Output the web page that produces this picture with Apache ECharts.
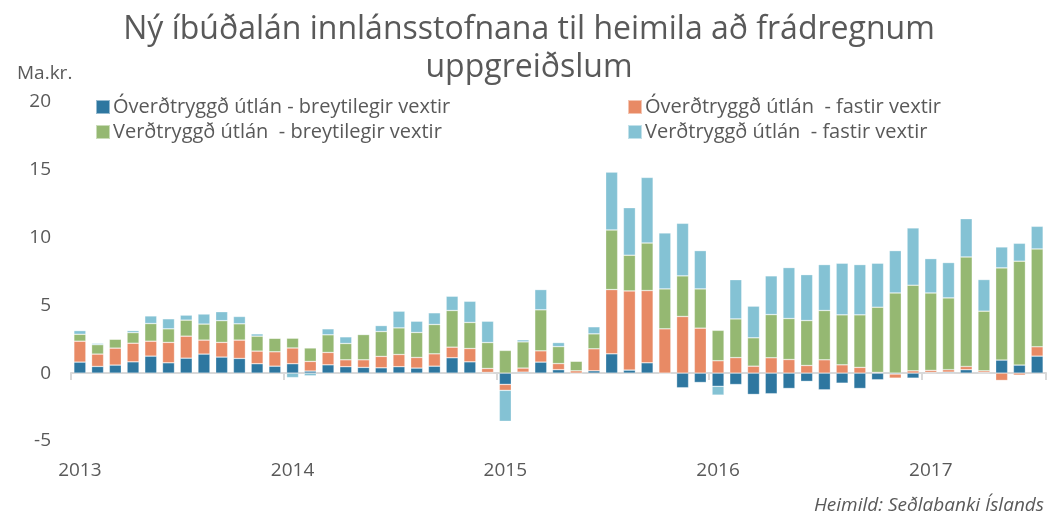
<!DOCTYPE html>
<html>
<head>
<meta charset="utf-8">
<script src="https://cdn.jsdelivr.net/npm/echarts@6/dist/echarts.min.js"></script>
<style>
  html, body { margin: 0; padding: 0; background: #fff; }
  #chart { width: 1058px; height: 522px; }
</style>
</head>
<body>
<div id="chart"></div>
<script>
// mánuðir jan 2013 - júl 2017
const months = [];
for (let y = 2013; y <= 2017; y++) {
  for (let m = 1; m <= 12; m++) {
    if (y === 2017 && m > 7) break;
    months.push(y + "-" + (m < 10 ? "0" + m : m));
  }
}

// Óverðtryggð útlán - breytilegir vextir
const overBreyt = [
  0.81, 0.49, 0.59, 0.83, 1.25, 0.76, 1.10, 1.40, 1.18, 1.08, 0.69, 0.51,
  0.69, 0.15, 0.61, 0.47, 0.42, 0.39, 0.47, 0.37, 0.51, 1.13, 0.83, 0.05,
  -0.83, 0.07, 0.81, 0.25, 0, 0.17, 1.42, 0.22, 0.76, 0, -1.08, -0.69,
  -0.97, -0.84, -1.57, -1.52, -1.13, -0.61, -1.23, -0.74, -1.13, -0.49, -0.07, -0.37,
  0.05, 0.07, 0.25, 0.05, 0.96, 0.59, 1.25
];
// Óverðtryggð útlán - fastir vextir
const overFast = [
  1.54, 0.91, 1.25, 1.37, 1.10, 1.50, 1.62, 1.03, 1.08, 1.35, 0.93, 1.06,
  1.16, 0.71, 0.91, 0.51, 0.56, 0.84, 0.90, 0.78, 0.91, 0.78, 0.98, 0.29,
  -0.44, 0.30, 0.83, 0.45, 0.17, 1.62, 4.73, 5.83, 5.32, 3.26, 4.17, 3.31,
  0.91, 1.14, 0.51, 1.13, 1.00, 0.56, 0.98, 0.61, 0.42, 0.05, -0.30, 0.17,
  0.15, 0.18, 0.24, 0.12, -0.54, -0.15, 0.69
];
// Verðtryggð útlán - breytilegir vextir
const verdBreyt = [
  0.51, 0.69, 0.66, 0.78, 1.30, 1.00, 1.18, 1.18, 1.60, 1.20, 1.10, 1.00,
  0.72, 0.99, 1.30, 1.20, 1.86, 1.83, 1.96, 1.84, 2.16, 2.70, 1.92, 1.91,
  1.67, 1.93, 3.02, 1.25, 0.71, 1.10, 4.39, 2.63, 3.50, 2.94, 2.99, 2.89,
  2.24, 2.85, 2.09, 3.18, 3.02, 3.31, 3.63, 3.68, 3.87, 4.80, 5.90, 6.30,
  5.70, 5.29, 8.06, 4.39, 6.79, 7.65, 7.20
];
// Verðtryggð útlán - fastir vextir
const verdFast = [
  0.27, 0.10, 0, 0.15, 0.56, 0.74, 0.37, 0.74, 0.66, 0.54, 0.17, 0,
  -0.33, -0.20, 0.44, 0.49, 0.05, 0.44, 1.23, 0.83, 0.86, 1.05, 1.56, 1.57,
  -2.28, 0.15, 1.49, 0.30, 0, 0.52, 4.26, 3.50, 4.83, 4.12, 3.87, 2.82,
  -0.65, 2.89, 2.33, 2.85, 3.75, 3.38, 3.38, 3.80, 3.70, 3.24, 3.12, 4.22,
  2.53, 2.60, 2.82, 2.33, 1.54, 1.32, 1.67
];

const yTicks = [-5, 0, 5, 10, 15, 20];
const seriesNames = [
  "Óverðtryggð útlán - breytilegir vextir",
  "Óverðtryggð útlán  - fastir vextir",
  "Verðtryggð útlán  - breytilegir vextir",
  "Verðtryggð útlán  - fastir vextir"
];
const colors = ["#2e77a0", "#e88a65", "#95b872", "#84c2d4"];
const seriesData = [overBreyt, overFast, verdBreyt, verdFast];

const textColor = "#595959";
const fontFamily = "'Open Sans', 'DejaVu Sans', sans-serif";

const chart = echarts.init(document.getElementById("chart"), null, { renderer: "canvas" });

const options = {
  animation: false,
  textStyle: { fontFamily: fontFamily, color: textColor },
  title: {
    text: "Ný íbúðalán innlánsstofnana til heimila að frádregnum\nuppgreiðslum",
    left: "center",
    top: 6,
    textStyle: {
      fontFamily: fontFamily,
      fontSize: 32,
      fontWeight: "normal",
      color: textColor,
      lineHeight: 38
    }
  },
  legend: [
    {
      left: 90,
      top: 92,
      orient: "vertical",
      itemGap: 5,
      itemWidth: 14,
      itemHeight: 14,
      icon: "rect",
      data: [seriesNames[0], seriesNames[2]],
      textStyle: { fontSize: 20, color: textColor, padding: [0, 0, 0, -2] }
    },
    {
      left: 622,
      top: 92,
      orient: "vertical",
      itemGap: 5,
      itemWidth: 14,
      itemHeight: 14,
      icon: "rect",
      data: [seriesNames[1], seriesNames[3]],
      textStyle: { fontSize: 20, color: textColor, padding: [0, 0, 0, -2] }
    }
  ],
  grid: {
    left: 71,
    right: 12,
    top: 101.5,
    bottom: 81,
    containLabel: false
  },
  xAxis: [
    {
      type: "category",
      data: months,
      axisLine: { onZero: true, lineStyle: { color: "#d9d9d9", width: 2 } },
      axisTick: {
        show: true,
        interval: 11,
        length: 7,
        inside: false,
        lineStyle: { color: "#d9d9d9", width: 2 }
      },
      axisLabel: { show: false }
    },
    {
      type: "category",
      data: months,
      position: "bottom",
      axisLine: { show: false, onZero: false },
      axisTick: { show: false },
      axisLabel: {
        interval: 11,
        margin: 20,
        fontSize: 19,
        color: textColor,
        formatter: (v) => v.slice(0, 4)
      }
    }
  ],
  yAxis: {
    type: "value",
    min: yTicks[0],
    max: yTicks[yTicks.length - 1],
    interval: 5,
    name: "Ma.kr.",
    nameLocation: "end",
    nameGap: 18,
    nameTextStyle: { fontSize: 19, color: textColor, align: "left", padding: [0, 0, 0, -54] },
    splitLine: { show: false },
    axisLine: { show: false },
    axisTick: { show: false },
    axisLabel: { fontSize: 19, color: textColor, margin: 20 }
  },
  series: seriesData.map((d, i) => ({
    name: seriesNames[i],
    type: "bar",
    stack: "total",
    xAxisIndex: 0,
    barWidth: 12,
    itemStyle: {
      color: colors[i],
      borderColor: "rgba(255,255,255,0.5)",
      borderWidth: 0.6
    },
    data: d
  })),
  graphic: [
    {
      type: "text",
      right: 14,
      top: 496,
      style: {
        text: "Heimild: Seðlabanki Íslands",
        fontFamily: fontFamily,
        fontSize: 19,
        fontStyle: "italic",
        fill: textColor
      }
    }
  ]
};

chart.setOption(options);
</script>
</body>
</html>
